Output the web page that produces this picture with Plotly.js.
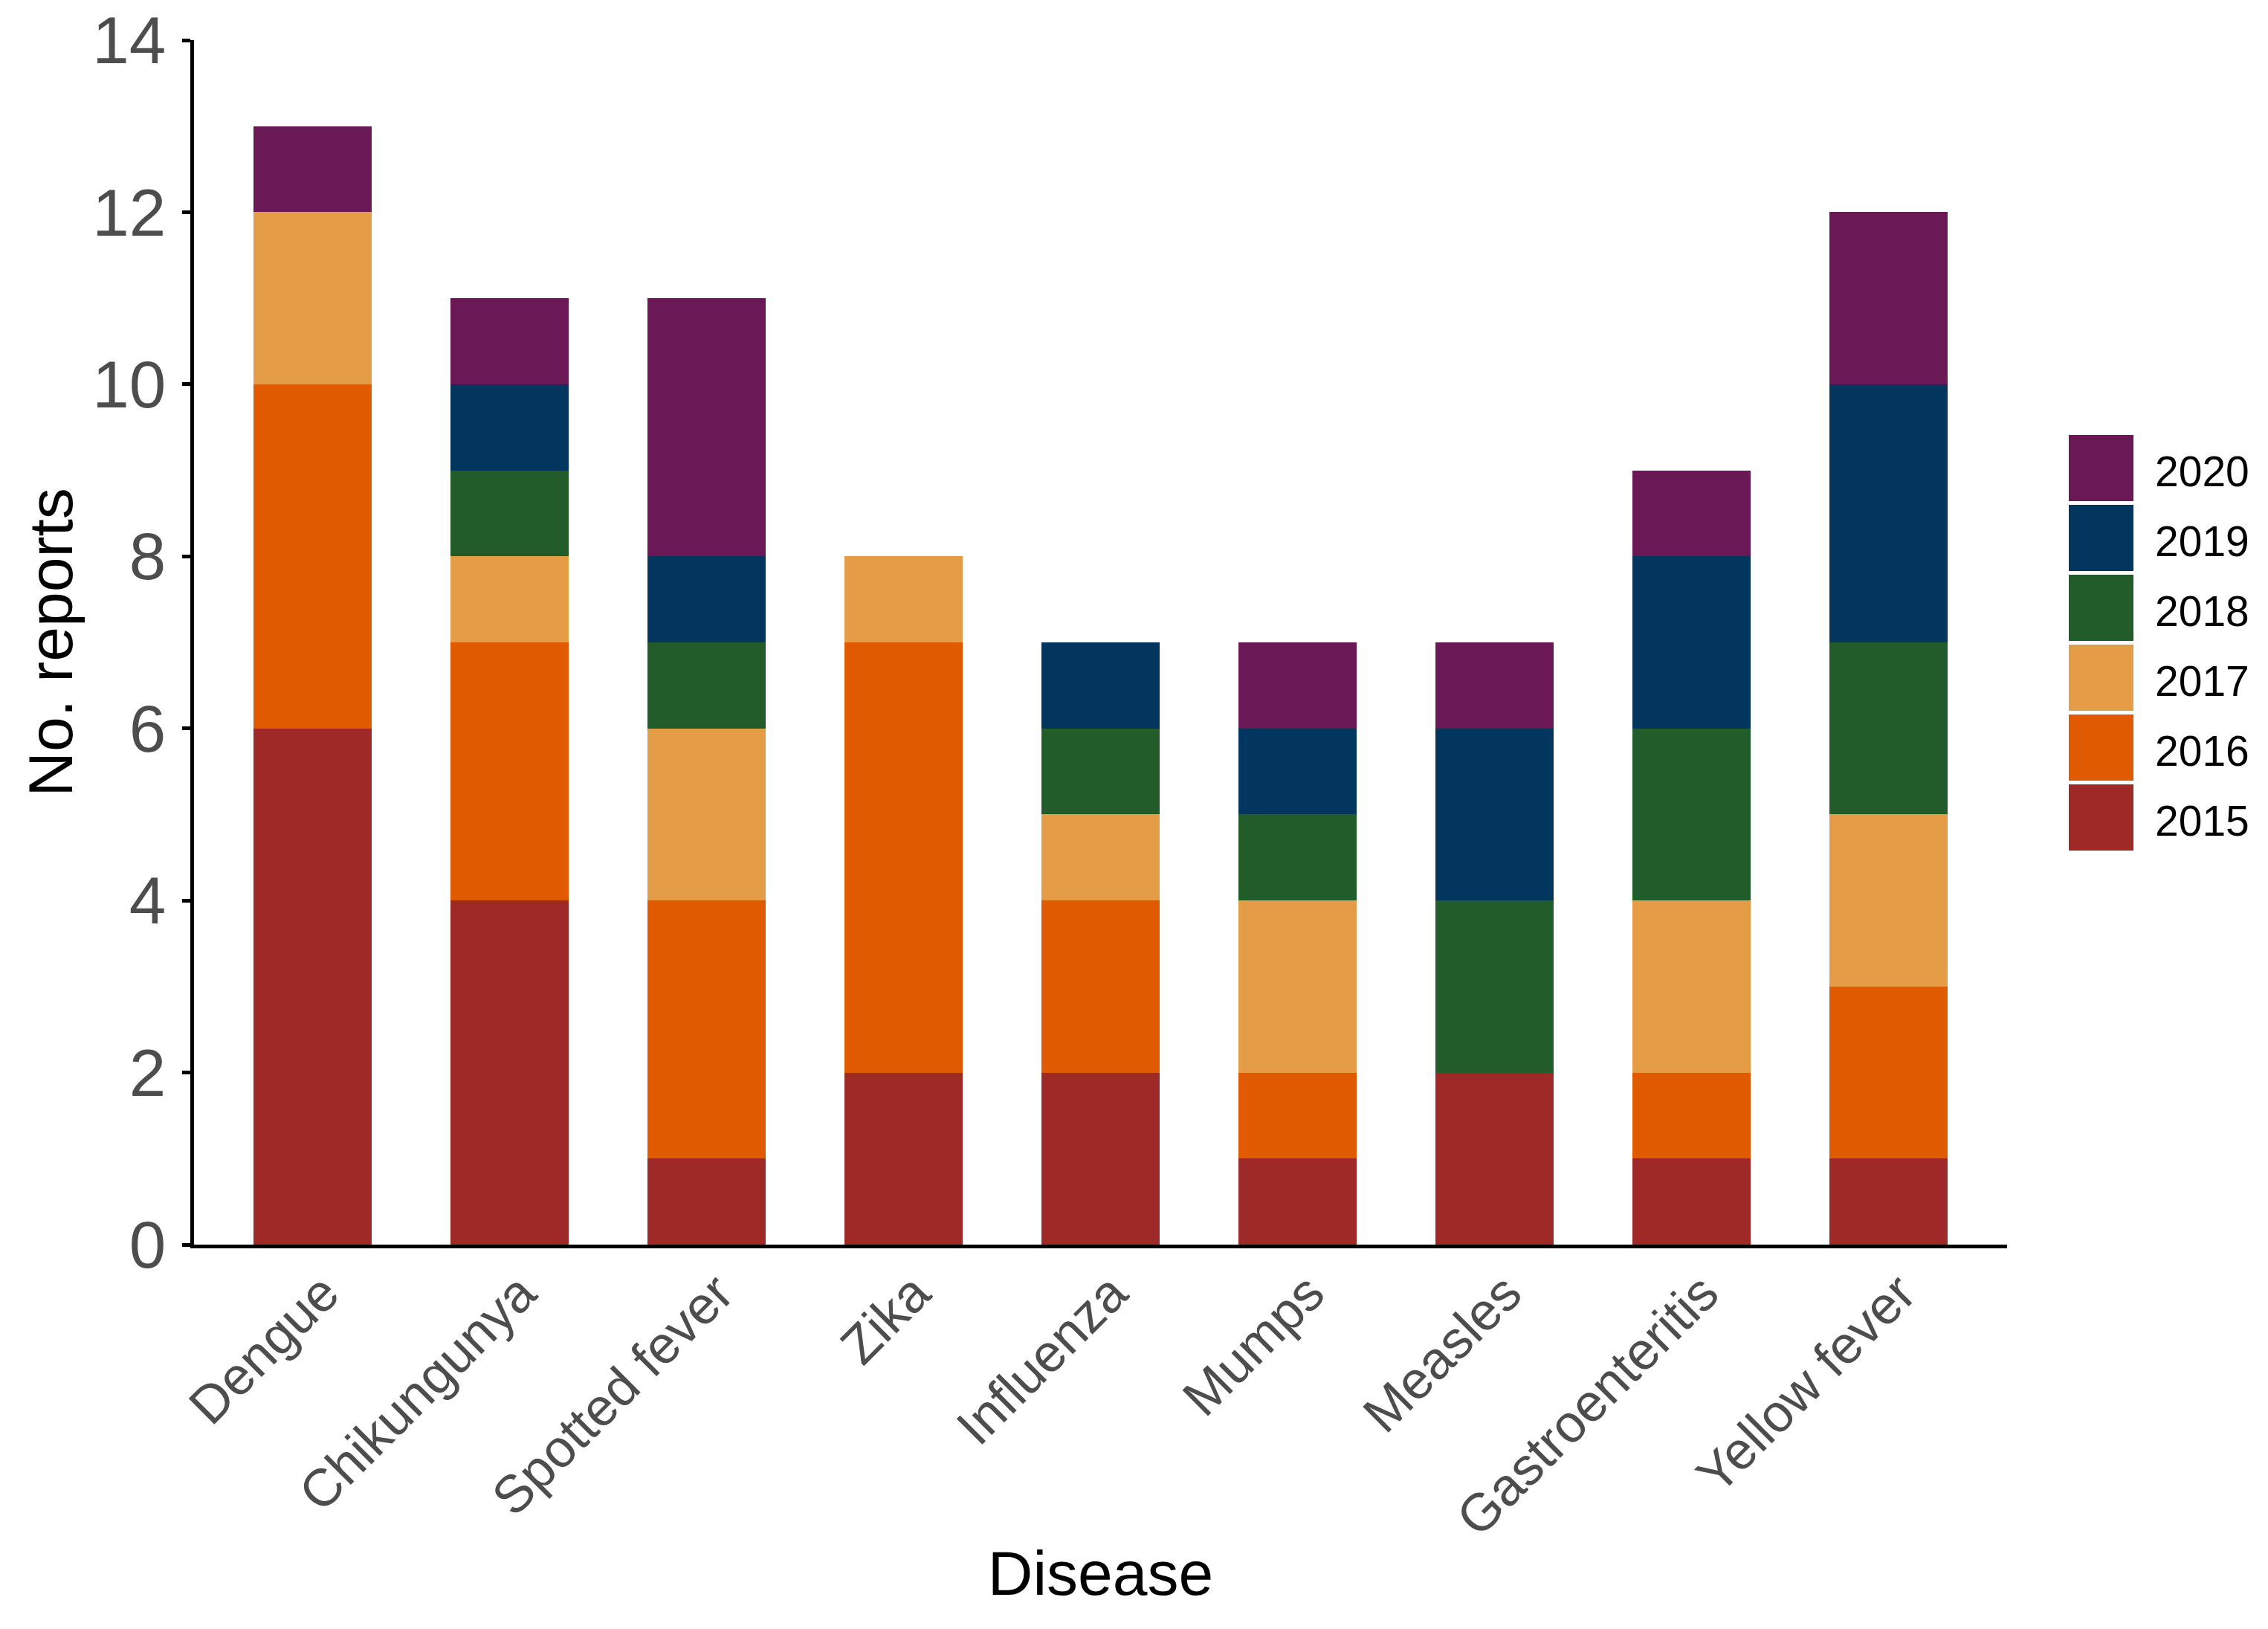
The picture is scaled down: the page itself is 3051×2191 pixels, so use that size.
<!DOCTYPE html>
<html><head><meta charset="utf-8">
<script src="https://cdn.plot.ly/plotly-3.0.1.min.js"></script>
<style>html,body{margin:0;padding:0;background:#fff}#chart{width:3051px;height:2191px}</style>
</head><body><div id="chart"></div>
<script>
const diseases = ["Dengue","Chikungunya","Spotted fever","Zika","Influenza","Mumps","Measles","Gastroenteritis","Yellow fever"];
const years = ["2015","2016","2017","2018","2019","2020"];
const y2015 = [6,4,1,2,2,1,2,1,1];
const y2016 = [4,3,3,5,2,1,0,1,2];
const y2017 = [2,1,2,1,1,2,0,2,2];
const y2018 = [0,1,1,0,1,1,2,2,2];
const y2019 = [0,1,1,0,1,1,2,2,3];
const y2020 = [1,1,3,0,0,1,1,1,2];
const colors = ["#9E2A28","#E05A02","#E59C47","#215C2A","#03365F","#6A1856"];
const yTicks = [0,2,4,6,8,10,12,14];

const series = [y2015,y2016,y2017,y2018,y2019,y2020];
const traces = series.map((vals,i)=>({
  type:'bar', name:years[i], x:diseases, y:vals, width:0.6,
  marker:{color:colors[i], line:{width:0}}, showlegend:false
}));

// pixel geometry of plot area
const W=3051, H=2191, L=261, R=2700, T=54, B=1674;
const pw=R-L, ph=B-T;
const px=v=>(v-L)/pw, py=v=>(B-v)/ph;

const shapes=[], annotations=[];
const keyTop=585, keyH=89, pitch=94, keyL=2783, keyR=2870;
for(let k=0;k<years.length;k++){
  const idx=years.length-1-k;
  const top=keyTop+k*pitch;
  shapes.push({type:'rect', xref:'paper', yref:'paper', x0:px(keyL), x1:px(keyR), y0:py(top+keyH), y1:py(top),
    fillcolor:colors[idx], line:{width:0}});
  annotations.push({xref:'paper', yref:'paper', x:px(2897), y:py(top+keyH/2+4), xanchor:'left', yanchor:'middle',
    text:years[idx], showarrow:false, font:{family:'Liberation Sans, Arial, sans-serif', size:57, color:'#000'}});
}

const layout={
  width:W, height:H, paper_bgcolor:'#fff', plot_bgcolor:'#fff',
  margin:{l:L, r:W-R, t:T, b:H-B, pad:0},
  barmode:'stack', bargap:0.4, showlegend:false,
  font:{family:'Liberation Sans, Arial, sans-serif'},
  xaxis:{range:[-0.6,8.6], showline:true, linecolor:'#000', linewidth:5, ticks:'', tickangle:-45,
    tickfont:{size:71, color:'#4D4D4D'}, ticklabelstandoff:-10, ticklabelshift:15, showgrid:false, zeroline:false, automargin:false,
    title:{text:'Disease', font:{size:84, color:'#000'}, standoff:8}},
  yaxis:{range:[0,14], tickvals:yTicks, ticktext:yTicks.map(String), ticks:'outside', ticklen:11, tickwidth:5, tickcolor:'#000',
    showline:true, linecolor:'#000', linewidth:5, showgrid:false, zeroline:false, automargin:false,
    tickfont:{size:89, color:'#4D4D4D'}, ticklabelstandoff:4,
    title:{text:'No. reports', font:{size:84, color:'#000'}, standoff:0}},
  shapes:shapes, annotations:annotations
};
Plotly.newPlot('chart', traces, layout, {staticPlot:true});
</script></body></html>
